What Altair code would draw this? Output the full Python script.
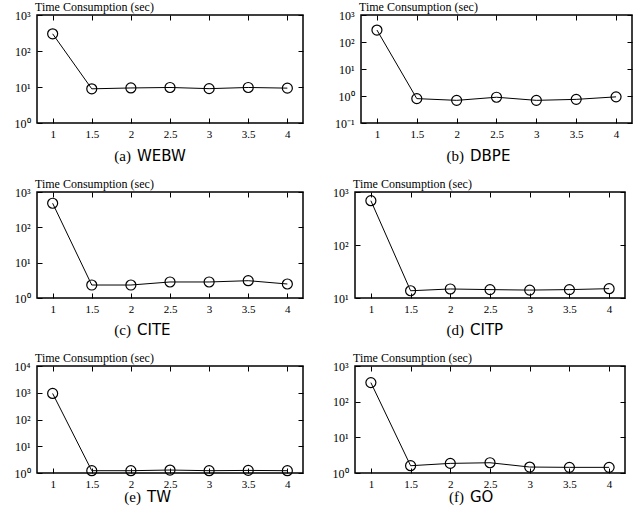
import altair as alt
import pandas as pd

# ---- data ----
x_vals = [1, 1.5, 2, 2.5, 3, 3.5, 4]
webw = [300, 8.9, 9.4, 9.7, 9.0, 9.7, 9.3]
dbpe = [277, 0.80, 0.69, 0.90, 0.69, 0.75, 0.93]
cite = [480, 2.33, 2.33, 2.84, 2.84, 3.09, 2.49]
citp = [685, 13.7, 14.8, 14.4, 14.1, 14.4, 15.0]
tw = [940, 1.22, 1.22, 1.29, 1.22, 1.25, 1.22]
go = [342, 1.60, 1.86, 1.94, 1.47, 1.44, 1.44]

series = [webw, dbpe, cite, citp, tw, go]
panel_letters = ["(a)", "(b)", "(c)", "(d)", "(e)", "(f)"]
panel_names = ["WEBW", "DBPE", "CITE", "CITP", "TW", "GO"]
y_domains = [[1, 1000], [0.1, 1000], [1, 1000], [10, 1000], [1, 10000], [1, 1000]]
y_tick_candidates = [0.1, 1, 10, 100, 1000, 10000]
x_ticks = [1, 1.5, 2, 2.5, 3, 3.5, 4]
title_text = "Time Consumption (sec)"

# ---- layout / style ----
SERIF = "'Liberation Serif', 'Times New Roman', Times, serif"
SANS = "'DejaVu Sans', sans-serif"
widths = [266, 271, 266, 270, 266, 270]
heights = [108, 108, 106, 106, 107, 107]
caption_split = [97, 106, 97, 112, 107, 112]
caption_dy = [33, 33, 32, 32, 24, 24]

LABEL_EXPR = (
    "datum.value < 0.5 ? '10\u207b\u00b9' : datum.value < 5 ? '10\u2070' : "
    "datum.value < 50 ? '10\u00b9' : datum.value < 500 ? '10\u00b2' : "
    "datum.value < 5000 ? '10\u00b3' : '10\u2074'"
)


def panel(i):
    w, h = widths[i], heights[i]
    df = pd.DataFrame({"x": x_vals, "y": series[i]})
    lo, hi = y_domains[i]
    yt = [v for v in y_tick_candidates if lo <= v <= hi]
    xs = alt.Scale(domain=[0.8, 4.2], nice=False, zero=False)
    ys = alt.Scale(type="log", domain=[lo, hi], nice=False)
    base_axis = dict(domain=False, grid=False, ticks=True, tickColor="black",
                     tickSize=5, tickWidth=1, offset=-5, title=None)
    x_bottom = alt.X("x:Q", scale=xs, axis=alt.Axis(
        orient="bottom", values=x_ticks, format="~g", labelFont=SERIF,
        labelFontSize=11, labelColor="black", labelPadding=5, labelFlush=False,
        **base_axis))
    y_left = alt.Y("y:Q", scale=ys, axis=alt.Axis(
        orient="left", values=yt, labelExpr=LABEL_EXPR, labelFont=SERIF,
        labelFontSize=12, labelColor="black", labelPadding=7, labelFlush=False,
        **base_axis))
    x_top = alt.X("x:Q", scale=xs, axis=alt.Axis(
        orient="top", values=x_ticks, labels=False, **base_axis))
    y_right = alt.Y("y:Q", scale=ys, axis=alt.Axis(
        orient="right", values=yt, labels=False, **base_axis))

    line = alt.Chart(df).mark_line(color="black", strokeWidth=1).encode(
        x=x_bottom, y=y_left)
    pts = alt.Chart(df).mark_point(
        shape="circle", filled=False, color="black", size=100, strokeWidth=1.2,
        opacity=1).encode(x=x_top, y=y_right)

    cap_df = pd.DataFrame({"letter": [panel_letters[i]], "name": [panel_names[i]]})
    cap_letter = alt.Chart(cap_df).mark_text(
        font=SERIF, fontSize=15, align="right", baseline="middle", color="black"
    ).encode(x=alt.value(caption_split[i] - 3), y=alt.value(h + caption_dy[i]),
             text="letter:N")
    cap_name = alt.Chart(cap_df).mark_text(
        font=SANS, fontSize=15, align="left", baseline="middle", color="black"
    ).encode(x=alt.value(caption_split[i] + 3), y=alt.value(h + caption_dy[i]),
             text="name:N")

    return alt.layer(line, pts, cap_letter, cap_name).resolve_axis(
        x="independent", y="independent"
    ).properties(
        width=w, height=h,
        title=alt.TitleParams(title_text, anchor="start", frame="group",
                              font=SERIF, fontSize=12, fontWeight="normal",
                              color="black", offset=-5, dx=-2),
    )


row1 = alt.hconcat(panel(0), panel(1), spacing=28)
row2 = alt.hconcat(panel(2), panel(3), spacing=26)
row3 = alt.hconcat(panel(4), panel(5), spacing=26)

chart = alt.vconcat(row1, row2, row3, spacing=12).properties(
    padding={"left": 13, "top": 0, "right": 0, "bottom": 0},
    background="white",
).configure_view(stroke="black", strokeWidth=1.5)

chart.save("out.html", embed_options={"renderer": "svg", "actions": False})
